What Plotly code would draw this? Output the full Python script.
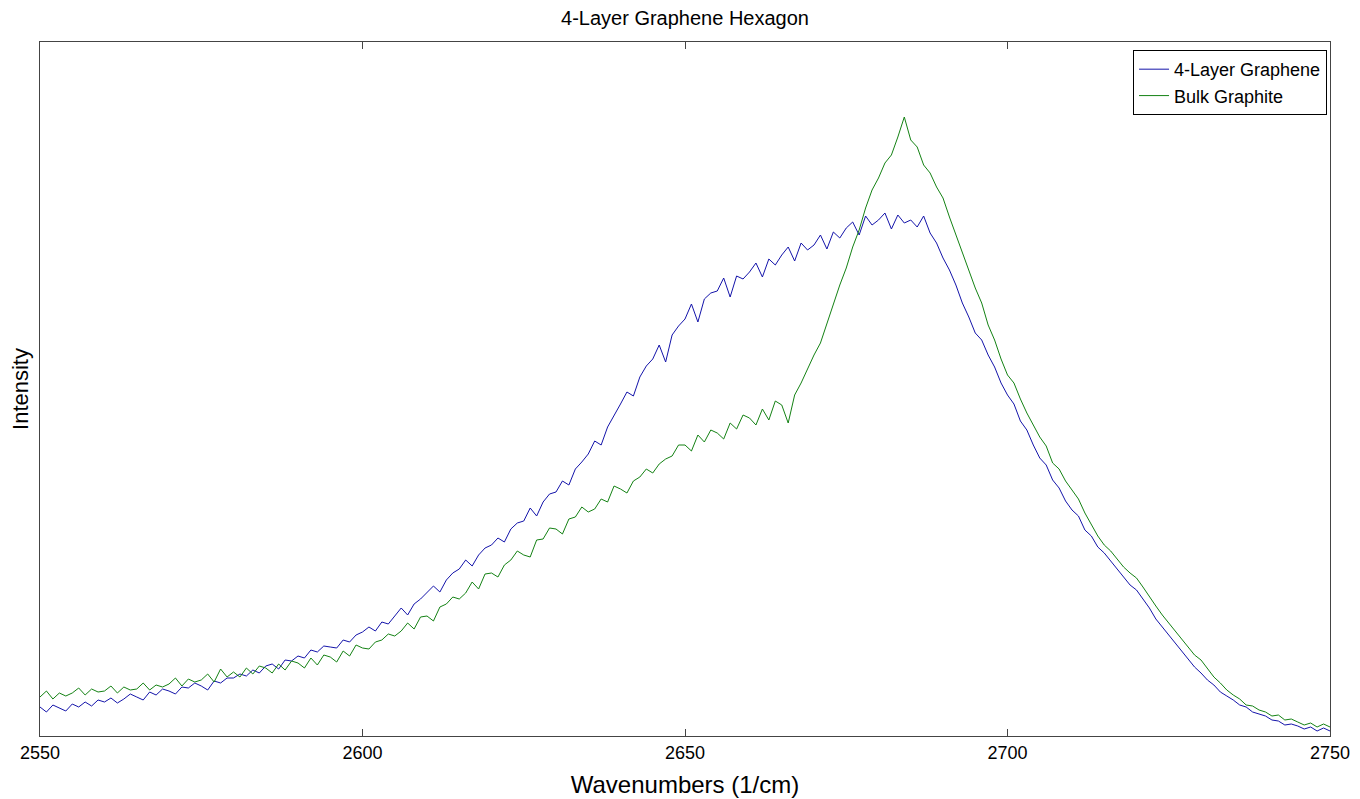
import plotly.graph_objects as go

wavenumbers = list(range(2550, 2751))

graphene_4layer = [
    28, 23, 30, 27, 24, 31, 28, 33, 29, 35,
    33, 37, 32, 36, 41, 38, 35, 43, 40, 46,
    44, 41, 48, 47, 52, 49, 45, 54, 52, 57,
    57, 61, 59, 65, 62, 69, 71, 66, 75, 74,
    79, 77, 85, 83, 89, 88, 87, 95, 93, 100,
    103, 108, 104, 113, 111, 119, 127, 120, 131, 136,
    142, 149, 143, 155, 162, 166, 175, 169, 180, 187,
    190, 197, 193, 206, 212, 214, 227, 219, 233, 241,
    243, 254, 250, 266, 273, 281, 294, 290, 308, 319,
    331, 343, 339, 358, 369, 376, 390, 373, 400, 409,
    416, 431, 413, 436, 442, 444, 457, 438, 459, 456,
    463, 472, 458, 476, 470, 480, 488, 474, 492, 485,
    490, 500, 486, 503, 497, 507, 513, 500, 519, 510,
    515, 522, 506, 520, 512, 515, 508, 519, 502, 492,
    477, 465, 450, 432, 418, 402, 395, 380, 368, 352,
    340, 331, 314, 305, 290, 277, 270, 255, 247, 234,
    225, 219, 205, 199, 188, 182, 174, 166, 158, 150,
    145, 136, 127, 116, 108, 100, 92, 83, 76, 68,
    62, 55, 50, 43, 39, 35, 30, 28, 23, 21,
    19, 15, 14, 10, 11, 9, 6, 8, 4, 7,
    4,
]

bulk_graphite = [
    38, 44, 36, 42, 39, 42, 47, 40, 46, 43,
    44, 49, 42, 48, 45, 46, 52, 45, 50, 48,
    51, 57, 49, 56, 53, 55, 61, 53, 66, 58,
    63, 58, 67, 61, 69, 67, 62, 71, 65, 74,
    72, 67, 77, 70, 80, 78, 73, 84, 79, 90,
    87, 86, 93, 95, 101, 99, 104, 112, 106, 118,
    119, 114, 128, 131, 138, 136, 142, 153, 146, 161,
    162, 158, 170, 175, 184, 180, 178, 195, 196, 207,
    206, 201, 216, 218, 228, 223, 226, 236, 233, 249,
    246, 242, 254, 258, 266, 262, 271, 276, 279, 290,
    290, 284, 300, 293, 305, 302, 296, 312, 306, 320,
    317, 310, 326, 315, 334, 330, 312, 340, 352, 366,
    380, 392, 412, 430, 450, 467, 488, 505, 527, 545,
    557, 572, 580, 598, 618, 595, 588, 570, 562, 548,
    537, 518, 500, 482, 465, 447, 432, 410, 395, 376,
    360, 352, 336, 322, 310, 298, 289, 272, 266, 254,
    245, 236, 222, 210, 199, 190, 184, 176, 168, 162,
    157, 148, 138, 129, 120, 112, 104, 95, 88, 80,
    75, 66, 58, 52, 45, 40, 36, 30, 29, 25,
    23, 19, 20, 15, 16, 13, 10, 12, 8, 11,
    8,
]

x_ticks = [2550, 2600, 2650, 2700, 2750]

fig = go.Figure()
fig.add_trace(go.Scatter(x=wavenumbers, y=graphene_4layer, mode="lines",
                         name="4-Layer Graphene",
                         line=dict(color="rgb(20,20,170)", width=1)))
fig.add_trace(go.Scatter(x=wavenumbers, y=bulk_graphite, mode="lines",
                         name="Bulk Graphite",
                         line=dict(color="rgb(20,130,20)", width=1)))

font_family = "Liberation Sans, Arial, sans-serif"
# The page body adds an 8px offset; margins compensate for it.
fig.update_layout(
    width=1360, height=799,
    margin=dict(l=32, r=38, t=34, b=71),
    paper_bgcolor="white", plot_bgcolor="white",
    font=dict(family=font_family, color="black", size=18),
    title=dict(text="4-Layer Graphene Hexagon", x=677 / 1360,
               xanchor="center", y=1 - 10 / 799, yanchor="middle",
               font=dict(size=20, family=font_family, color="black")),
    showlegend=True,
    legend=dict(x=0.9977, xanchor="right", y=0.9885, yanchor="top",
                bgcolor="white", bordercolor="black", borderwidth=1,
                font=dict(size=18, family=font_family, color="black"),
                tracegroupgap=0, itemwidth=30),
)
fig.update_xaxes(
    range=[2550, 2750], tickvals=x_ticks, ticktext=[str(t) for t in x_ticks],
    ticks="inside", ticklen=7, tickcolor="#444", showgrid=False, zeroline=False,
    showline=True, linecolor="#444", linewidth=1, mirror="ticks",
    tickfont=dict(size=18, family=font_family, color="black"),
    title=dict(text="Wavenumbers (1/cm)", standoff=14,
               font=dict(size=24, family=font_family, color="black")),
)
fig.update_yaxes(
    range=[-1, 693], showticklabels=False, ticks="", showgrid=False, zeroline=False,
    showline=True, linecolor="#444", linewidth=1, mirror=True,
    title=dict(text="Intensity", standoff=4,
               font=dict(size=22, family=font_family, color="black")),
)

fig.write_html("out.html")
